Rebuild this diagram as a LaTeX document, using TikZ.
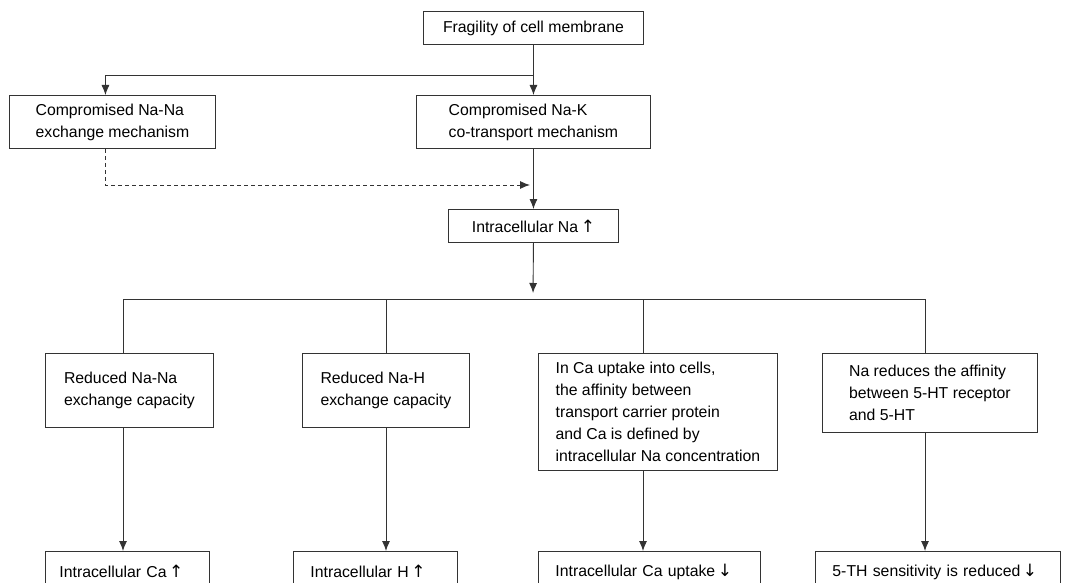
\documentclass[tikz,border=0pt]{standalone}
\usepackage{fontspec}
\setmainfont{Liberation Sans}
\newfontfamily\arrowfont{DejaVu Sans}
\usepackage{tikz}
\usetikzlibrary{arrows.meta}

\definecolor{linec}{gray}{0.2}
\newcommand{\boxfont}{\fontsize{15.8}{22}\selectfont}
\newcommand{\up}{\,{\arrowfont\fontsize{17}{17}\selectfont ↑}}
\newcommand{\down}{\,{\arrowfont\fontsize{17}{17}\selectfont ↓}}

\begin{document}
\begin{tikzpicture}[x=1pt, y=-1pt,
    box/.style={draw=linec, line width=0.9pt, font=\boxfont, align=left,
        anchor=north west, inner sep=0pt},
    link/.style={draw=linec, line width=0.9pt},
    >={Latex[length=10pt, width=8pt]}]
    \useasboundingbox (0,0) rectangle (1066,583);

    % Top of the chain
    \node[box, align=center, minimum width=220, minimum height=33] (frag) at (423,11) {Fragility of cell membrane};
    \node[box, minimum width=206, minimum height=53] (nana) at (9,95) {Compromised Na-Na\\exchange mechanism};
    \node[box, minimum width=234, minimum height=53] (nak) at (416,95) {Compromised Na-K\\co-transport mechanism};
    \node[box, align=center, minimum width=170, minimum height=33] (na) at (448,209) {Intracellular Na\up};

    % Branch points
    \coordinate (split) at (533,75);
    \coordinate (merge) at (533,185);
    \coordinate (hub) at (533,299);

    \draw[link, ->] (frag.south) -- (nak.north);
    \draw[link, ->] (split) -| ([xshift=-7pt]nana.north);
    \draw[link, dashed, dash pattern=on 4pt off 3pt, ->, shorten >=3pt] ([xshift=-7pt]nana.south) |- (merge);
    \draw[link, ->] (nak.south) -- (na.north);
    \draw[link, ->, shorten >=6pt] (na.south) -- (hub);

    % Mechanisms
    \node[box, minimum width=168, minimum height=74] (r1) at (45,353) {Reduced Na-Na\\exchange capacity};
    \node[box, minimum width=167, minimum height=74] (r2) at (302,353) {Reduced Na-H\\exchange capacity};
    \node[box, minimum width=239, minimum height=117] (r3) at (538,353) {In Ca uptake into cells,\\the affinity between\\transport carrier protein\\and Ca is defined by\\intracellular Na concentration};
    \node[box, minimum width=215, minimum height=79] (r4) at (822,353) {Na reduces the affinity\\between 5-HT receptor\\and 5-HT};

    % Outcomes
    \node[box, text width=136, inner xsep=14, minimum height=40] (o1) at (45,551) {Intracellular Ca\up};
    \node[box, text width=130, inner xsep=17, minimum height=40] (o2) at (293,551) {Intracellular H\up};
    \node[box, text width=188, inner xsep=17, minimum height=40] (o3) at (538,551) {Intracellular Ca uptake\down};
    \node[box, text width=211, inner xsep=17, minimum height=40] (o4) at (815,551) {5-TH sensitivity is reduced\down};

    % Columns
    \foreach \i/\x in {1/123, 2/386, 3/643, 4/925} {
        \coordinate (col\i) at (\x,299);
        \draw[link] (col\i) -- (col\i |- r\i.north);
        \draw[link, ->] (col\i |- r\i.south) -- (col\i |- o\i.north);
    }
    \draw[link] (col1) -- (col4);
\end{tikzpicture}
\end{document}
